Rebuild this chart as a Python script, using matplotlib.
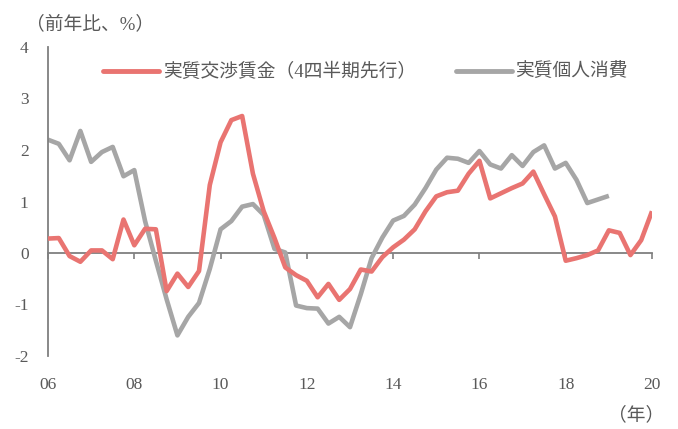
import matplotlib
matplotlib.use("Agg")
import matplotlib.pyplot as plt
import numpy as np

plt.rcParams['font.family'] = ['Liberation Serif', 'DejaVu Serif', 'Noto Sans CJK JP', 'DejaVu Sans']
plt.rcParams['axes.unicode_minus'] = False

# ---- data (quarterly, from 2006 Q1) ----
wage_label = "実質交渉賃金（4四半期先行）"
cons_label = "実質個人消費"
start_year = 2006
wage = [0.28, 0.29, -0.06, -0.17, 0.05, 0.05, -0.12, 0.65, 0.15, 0.47,
        0.46, -0.74, -0.40, -0.66, -0.35, 1.32, 2.15, 2.58, 2.66, 1.54,
        0.81, 0.29, -0.28, -0.43, -0.54, -0.86, -0.60, -0.91, -0.70, -0.32,
        -0.36, -0.08, 0.11, 0.26, 0.46, 0.81, 1.10, 1.18, 1.21, 1.54,
        1.79, 1.06, 1.16, 1.26, 1.35, 1.58, 1.14, 0.71, -0.15, -0.10,
        -0.04, 0.05, 0.44, 0.39, -0.04, 0.25, 0.81]
consumption = [2.20, 2.12, 1.80, 2.37, 1.77, 1.96, 2.06, 1.49, 1.61, 0.62,
               -0.15, -0.90, -1.60, -1.24, -0.97, -0.31, 0.46, 0.62, 0.90, 0.95,
               0.74, 0.08, 0.01, -1.02, -1.07, -1.08, -1.37, -1.24, -1.44, -0.80,
               -0.10, 0.30, 0.63, 0.72, 0.94, 1.26, 1.62, 1.85, 1.83, 1.75,
               1.98, 1.72, 1.64, 1.90, 1.69, 1.96, 2.09, 1.64, 1.75, 1.42,
               0.97, 1.04, 1.11]
xtick_years = [2006, 2008, 2010, 2012, 2014, 2016, 2018, 2020]
xtick_labels = ["06", "08", "10", "12", "14", "16", "18", "20"]
yticks = [-2, -1, 0, 1, 2, 3, 4]

RED = "#E97471"
GRAY = "#A6A6A6"
TXT = "#595959"
AX = "#7F7F7F"
NUM_FS = 12.5
CJK_FS = 13.5

W, H = 678, 429
fig = plt.figure(figsize=(W / 100, H / 100), dpi=100)
ax = fig.add_axes([48 / W, 1 - 356 / H, (652 - 48) / W, (356 - 47) / H])

xw = start_year + np.arange(len(wage)) * 0.25
xc = start_year + np.arange(len(consumption)) * 0.25
ax.plot(xw, wage, color=RED, lw=3.3, solid_joinstyle='round', solid_capstyle='butt', label=wage_label, zorder=3)
ax.plot(xc, consumption, color=GRAY, lw=3.3, solid_joinstyle='round', solid_capstyle='butt', label=cons_label, zorder=2)

ax.set_xlim(2006, 2020)
ax.set_ylim(-2, 4)

for s in ['top', 'right']:
    ax.spines[s].set_visible(False)
ax.spines['left'].set_color(AX)
ax.spines['left'].set_linewidth(1.3)
ax.spines['bottom'].set_position(('data', 0))
ax.spines['bottom'].set_color(AX)
ax.spines['bottom'].set_linewidth(1.3)
ax.spines['bottom'].set_zorder(1)

ax.set_xticks(xtick_years)
ax.tick_params(axis='x', direction='out', length=4, width=1.2, color=AX, labelbottom=False)
ax.set_yticks(yticks)
ax.set_yticklabels([str(v) for v in yticks])
ax.tick_params(axis='y', length=0, pad=14, labelsize=NUM_FS, labelcolor=TXT)

sec = ax.secondary_xaxis('bottom')
sec.set_xticks(xtick_years)
sec.set_xticklabels(xtick_labels)
sec.tick_params(length=0, pad=15, labelsize=NUM_FS, labelcolor=TXT)
sec.spines['bottom'].set_visible(False)

fig.text(26 / W, 1 - 24 / H, "（前年比、%）", ha='left', va='center', fontsize=CJK_FS, color=TXT)
fig.text(636 / W, 1 - 415 / H, "（年）", ha='center', va='center', fontsize=CJK_FS, color=TXT)

leg = fig.legend(loc='center left', bbox_to_anchor=(103 / W, 1 - 72 / H), ncol=2, frameon=False,
                 prop={'size': CJK_FS}, handlelength=3.0, handletextpad=0.2, columnspacing=2.1,
                 borderpad=0, borderaxespad=0)
for t in leg.get_texts():
    t.set_color(TXT)
for h in leg.legend_handles:
    h.set_linewidth(3.5)
    h.set_solid_capstyle('round')

fig.savefig("out.png", dpi=100)
